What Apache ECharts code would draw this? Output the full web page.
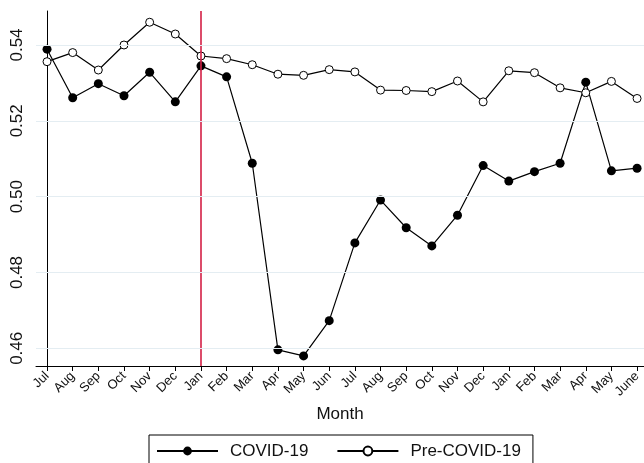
<!DOCTYPE html>
<html>
<head>
<meta charset="utf-8">
<script src="https://cdn.jsdelivr.net/npm/echarts@6/dist/echarts.min.js"></script>
<style>
  html, body { margin: 0; padding: 0; background: #fff; }
  #chart { width: 644px; height: 463px; }
</style>
</head>
<body>
<div id="chart"></div>
<script>
// Monthly labels, July through the following June (two years)
const months = ['Jul','Aug','Sep','Oct','Nov','Dec','Jan','Feb','Mar','Apr','May','Jun',
                'Jul','Aug','Sep','Oct','Nov','Dec','Jan','Feb','Mar','Apr','May','June'];

const covid = [0.5389, 0.5261, 0.5298, 0.5266, 0.5328, 0.5250, 0.5345, 0.5316, 0.5088, 0.4596,
               0.4580, 0.4673, 0.4878, 0.4991, 0.4918, 0.4870, 0.4951, 0.5082, 0.5041, 0.5066,
               0.5088, 0.5302, 0.5068, 0.5075];

const preCovid = [0.5356, 0.5380, 0.5334, 0.5400, 0.5460, 0.5429, 0.5371, 0.5364, 0.5348, 0.5323,
                  0.5320, 0.5335, 0.5329, 0.5281, 0.5280, 0.5277, 0.5305, 0.5250, 0.5332, 0.5327,
                  0.5287, 0.5274, 0.5304, 0.5259];

const yTicks = [0.46, 0.48, 0.50, 0.52, 0.54];
const onsetIndex = 6; // January, pandemic onset marker

const idx = months.map((_, i) => i);
const font = '"Liberation Sans", Arial, Helvetica, sans-serif';

const chart = echarts.init(document.getElementById('chart'));
chart.setOption({
  animation: false,
  backgroundColor: '#ffffff',
  textStyle: { fontFamily: font, color: '#111' },
  grid: { left: 36, right: 0, top: 11, bottom: 97 },
  xAxis: {
    type: 'value',
    min: -0.43,
    max: 23.27,
    name: 'Month',
    nameLocation: 'middle',
    nameGap: 40,
    nameTextStyle: { fontSize: 17, color: '#111', fontFamily: font },
    axisLine: { show: true, lineStyle: { color: '#000', width: 1 } },
    axisTick: { show: true, customValues: idx, length: 5, lineStyle: { color: '#000' } },
    axisLabel: {
      customValues: idx,
      formatter: v => months[v],
      rotate: 45,
      margin: 8,
      fontSize: 13,
      color: '#111',
      fontFamily: font
    },
    splitLine: { show: false }
  },
  yAxis: {
    type: 'value',
    min: 0.455332,
    max: 0.548967,
    axisLine: { show: true, lineStyle: { color: '#000', width: 1 } },
    axisTick: { show: true, customValues: yTicks, length: 5, lineStyle: { color: '#000' } },
    axisLabel: {
      customValues: yTicks,
      formatter: v => v.toFixed(2),
      rotate: 90,
      margin: 10,
      fontSize: 17,
      color: '#111',
      fontFamily: font
    },
    splitLine: { show: false }
  },
  legend: {
    left: 149,
    top: 435,
    orient: 'horizontal',
    itemWidth: 61,
    itemHeight: 11,
    itemGap: 28,
    padding: [6, 12, 14, 7],
    borderColor: '#000',
    borderWidth: 1,
    borderRadius: 0,
    textStyle: { fontSize: 17, color: '#111', fontFamily: font, padding: [0, 0, 0, 7], lineHeight: 20 },
    data: ['COVID-19', 'Pre-COVID-19']
  },
  series: [
    {
      name: 'COVID-19',
      type: 'line',
      data: covid.map((v, i) => [i, v]),
      symbol: 'circle',
      symbolSize: 9,
      lineStyle: { color: '#000', width: 1.2 },
      itemStyle: { color: '#000', borderColor: '#000', borderWidth: 0 },
      z: 3,
      markLine: {
        silent: true,
        symbol: 'none',
        label: { show: false },
        lineStyle: { color: '#d41f45', width: 1.6, type: 'solid' },
        data: [{ xAxis: onsetIndex }]
      }
    },
    {
      name: 'Pre-COVID-19',
      type: 'line',
      data: preCovid.map((v, i) => [i, v]),
      symbol: 'circle',
      symbolSize: 8,
      showAllSymbol: true,
      lineStyle: { color: '#000', width: 1.2 },
      itemStyle: { color: '#fff', borderColor: '#000', borderWidth: 1 },
      z: 4
    },
    {
      // light horizontal gridlines at the labelled ticks
      type: 'line',
      data: [],
      silent: true,
      z: 1,
      markLine: {
        silent: true,
        symbol: 'none',
        label: { show: false },
        lineStyle: { color: '#e4edf2', width: 1, type: 'solid' },
        data: yTicks.map(v => ({ yAxis: v }))
      }
    }
  ]
});
</script>
</body>
</html>
